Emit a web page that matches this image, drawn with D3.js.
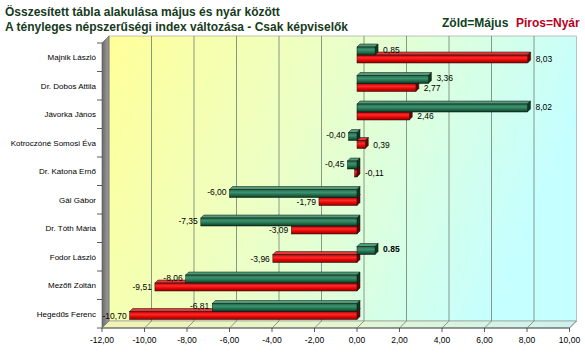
<!DOCTYPE html>
<html>
<head>
<meta charset="utf-8">
<script src="https://cdn.jsdelivr.net/npm/d3@7"></script>
<style>
  body { margin: 0; background: #fff; }
  svg { font-family: "Liberation Sans", Arial, sans-serif; display: block; }
</style>
</head>
<body>
<svg id="chart"></svg>
<script>
// Data
const names = ["Majnik László", "Dr. Dobos Attila", "Jávorka János", "Kotroczóné Somosi Éva",
  "Dr. Katona Ernő", "Gál Gábor", "Dr. Tóth Mária", "Fodor László", "Mezőfi Zoltán", "Hegedűs Ferenc"];
const may = [0.85, 3.36, 8.02, -0.40, -0.45, -6.00, -7.35, 0.85, -8.06, -6.81];
const summer = [8.03, 2.77, 2.46, 0.39, -0.11, -1.79, -3.09, -3.96, -9.51, -10.70];
const xTicks = [-12, -10, -8, -6, -4, -2, 0, 2, 4, 6, 8, 10];
// this one label was typed with a point in the original
const dotLabelNames = ["Fodor László"];

const huLocale = d3.formatLocale({decimal: ",", thousands: " ", grouping: [3], currency: ["", " Ft"], minus: "-"});
const fmt = huLocale.format(".2f");
const fmtDot = d3.formatLocale({decimal: ".", thousands: ",", grouping: [3], currency: ["", ""], minus: "-"}).format(".2f");

class Bar3DChart {

  constructor(_config) {
    this.config = {
      parentElement: _config.parentElement,
      containerWidth: _config.containerWidth || 585,
      containerHeight: _config.containerHeight || 353,
      plot: {left: 102, right: 569.5, top: 43, bottom: 328},
      depth: 7,
      barDepth: 3
    };
    this.initVis();
  }

  initVis() {
    let vis = this;
    const p = vis.config.plot, d = vis.config.depth;

    vis.svg = d3.select(vis.config.parentElement)
        .attr('width', vis.config.containerWidth)
        .attr('height', vis.config.containerHeight);

    vis.xScale = d3.scaleLinear().domain([-12, 10]).range([p.left, p.right]);
    vis.yScale = d3.scaleBand().domain(names).range([p.top, p.bottom]);
    vis.subScale = d3.scaleBand().domain(['summer', 'may']).range([20, 4]);

    const defs = vis.svg.append('defs');
    const grad = (id, stops, x2, y2) => {
      const g = defs.append('linearGradient').attr('id', id)
          .attr('x1', 0).attr('y1', 0).attr('x2', x2).attr('y2', y2);
      stops.forEach(s => g.append('stop').attr('offset', s[0]).attr('stop-color', s[1]));
    };
    grad('wallGrad', [[0, '#ffff99'], [0.45, '#ecffc6'], [1, '#c6ffff']], 1, 0.25);
    grad('floorGrad', [[0, '#f2f2b4'], [0.5, '#e4f6d0'], [1, '#ccf2f0']], 1, 0);
    grad('leftGrad', [[0, '#6a6a6a'], [1, '#a0a0a0']], 1, 0);
    grad('greenFront', [[0, '#1e6a45'], [0.35, '#3f9272'], [0.7, '#1f6a48'], [1, '#0a3520']], 0, 1);
    grad('redFront', [[0, '#b00000'], [0.35, '#ff2a2a'], [0.7, '#e00000'], [1, '#8a0000']], 0, 1);

    // Title and legend
    vis.svg.append('text').attr('x', 5).attr('y', 16)
        .attr('font-size', 12).attr('font-weight', 'bold').attr('fill', '#163a20')
        .text('Összesített tábla alakulása május és nyár között');
    vis.svg.append('text').attr('x', 5).attr('y', 31)
        .attr('font-size', 12).attr('font-weight', 'bold').attr('fill', '#163a20')
        .text('A tényleges népszerűségi index változása - Csak képviselők');
    vis.svg.append('text').attr('x', 442).attr('y', 27)
        .attr('font-size', 12).attr('font-weight', 'bold').attr('fill', '#0d4220')
        .text('Zöld=Május');
    vis.svg.append('text').attr('x', 516).attr('y', 27)
        .attr('font-size', 12).attr('font-weight', 'bold').attr('fill', '#b8001e')
        .text('Piros=Nyár');

    // Back wall, left wall, floor
    const xl = vis.xScale(-12), xr = vis.xScale(10);
    vis.svg.append('rect')
        .attr('x', xl + d).attr('y', p.top - d)
        .attr('width', xr - xl).attr('height', p.bottom - p.top)
        .attr('fill', 'url(#wallGrad)').attr('stroke', '#9a9a9a').attr('stroke-width', 0.6);
    vis.svg.append('polygon')
        .attr('points', [[xl, p.top], [xl + d, p.top - d], [xl + d, p.bottom - d], [xl, p.bottom]].join(' '))
        .attr('fill', 'url(#leftGrad)').attr('stroke', '#555').attr('stroke-width', 0.6);
    vis.svg.append('polygon')
        .attr('points', [[xl, p.bottom], [xl + d, p.bottom - d], [xr + d, p.bottom - d], [xr, p.bottom]].join(' '))
        .attr('fill', 'url(#floorGrad)').attr('stroke', '#8a8a8a').attr('stroke-width', 0.6);
    vis.svg.append('line')
        .attr('x1', xl).attr('x2', xr).attr('y1', p.bottom).attr('y2', p.bottom)
        .attr('stroke', '#333').attr('stroke-width', 0.8);

    // Gridlines on wall + floor
    const grid = vis.svg.append('g');
    xTicks.filter(t => t > -12 && t < 10).forEach(t => {
      const x = vis.xScale(t);
      grid.append('line')
          .attr('x1', x + d).attr('x2', x + d).attr('y1', p.top - d).attr('y2', p.bottom - d)
          .attr('stroke', '#6f7f6f').attr('stroke-width', 0.8);
    });
    xTicks.forEach(t => {
      const x = vis.xScale(t);
      grid.append('line')
          .attr('x1', x).attr('x2', x + d).attr('y1', p.bottom).attr('y2', p.bottom - d)
          .attr('stroke', '#6f7f6f').attr('stroke-width', 0.8);
      grid.append('line')
          .attr('x1', x).attr('x2', x).attr('y1', p.bottom).attr('y2', p.bottom + 4)
          .attr('stroke', '#333').attr('stroke-width', 0.8);
      grid.append('text')
          .attr('x', x).attr('y', p.bottom + 15)
          .attr('text-anchor', 'middle').attr('font-size', 8.5).attr('fill', '#000')
          .text(fmt(t));
    });

    // Category axis on the left wall
    const yAxis = vis.svg.append('g');
    vis.yScale.domain().forEach(n => {
      const y0 = vis.yScale(n);
      yAxis.append('line').attr('x1', xl - 5).attr('x2', xl).attr('y1', y0).attr('y2', y0)
          .attr('stroke', '#333').attr('stroke-width', 0.8);
      yAxis.append('text')
          .attr('x', 96).attr('y', y0 + vis.yScale.bandwidth() / 2 + 3)
          .attr('text-anchor', 'end').attr('font-size', 8).attr('fill', '#000')
          .text(n);
    });
    yAxis.append('line').attr('x1', xl - 5).attr('x2', xl).attr('y1', p.bottom).attr('y2', p.bottom)
        .attr('stroke', '#333').attr('stroke-width', 0.8);

    vis.marks = vis.svg.append('g');
    vis.labels = vis.svg.append('g');
  }

  updateVis() {
    let vis = this;
    vis.rows = names.map((n, i) => ([
      {name: n, key: 'summer', value: summer[i]},
      {name: n, key: 'may', value: may[i]}
    ]));
    vis.renderVis();
  }

  renderVis() {
    let vis = this;
    const b = vis.config.barDepth;
    const h = vis.subScale.bandwidth();
    const col = {
      may: {front: 'url(#greenFront)', top: '#4f9c78', side: '#0b3a22'},
      summer: {front: 'url(#redFront)', top: '#e23a3a', side: '#6e0000'}
    };

    vis.rows.forEach(row => {
      row.forEach(dd => {
        const y = vis.yScale(dd.name) + vis.subScale(dd.key);
        const x0 = vis.xScale(Math.min(0, dd.value));
        const x1 = vis.xScale(Math.max(0, dd.value));
        const c = col[dd.key];
        const g = vis.marks.append('g');
        g.append('polygon')
            .attr('points', [[x0, y], [x0 + b, y - b], [x1 + b, y - b], [x1, y]].join(' '))
            .attr('fill', c.top).attr('stroke', '#111').attr('stroke-width', 0.5);
        g.append('polygon')
            .attr('points', [[x1, y], [x1 + b, y - b], [x1 + b, y + h - b], [x1, y + h]].join(' '))
            .attr('fill', c.side).attr('stroke', '#111').attr('stroke-width', 0.5);
        g.append('rect')
            .attr('x', x0).attr('y', y).attr('width', x1 - x0).attr('height', h)
            .attr('fill', c.front).attr('stroke', '#111').attr('stroke-width', 0.5);

        // value label
        const dot = dd.key === 'may' && dotLabelNames.includes(dd.name);
        const rightSide = dd.value >= 0 || dd.value > -0.2;
        const lx = rightSide ? x1 + b + 5 : x0 - 3;
        const ly = y + h / 2 + (dd.key === 'may' ? -1.5 : 0) + 3;
        vis.labels.append('text')
            .attr('x', lx).attr('y', ly)
            .attr('text-anchor', rightSide ? 'start' : 'end')
            .attr('font-size', 8.5).attr('fill', '#000')
            .attr('font-weight', dot ? 'bold' : 'normal')
            .text(dot ? fmtDot(dd.value) : fmt(dd.value));
      });
    });
  }
}

const chart = new Bar3DChart({parentElement: '#chart'});
chart.updateVis();
</script>
</body>
</html>
